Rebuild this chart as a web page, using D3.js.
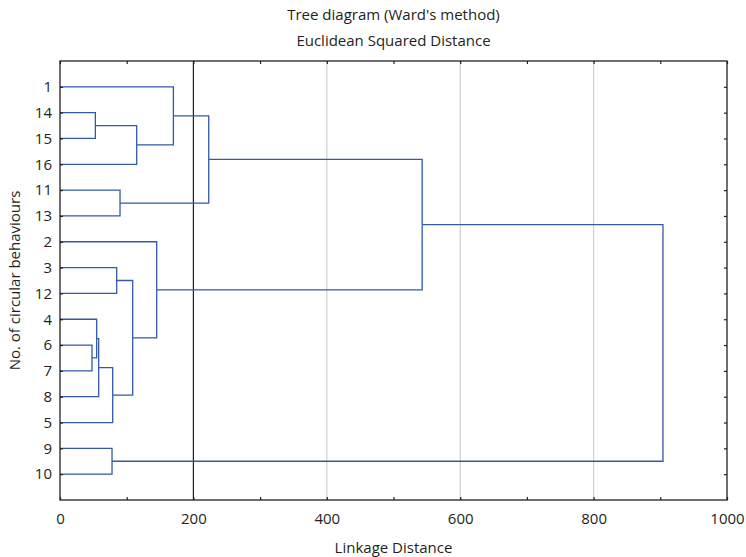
<!DOCTYPE html>
<html>
<head>
<meta charset="utf-8">
<script src="https://cdn.jsdelivr.net/npm/d3@7"></script>
<style>
  body { margin: 0; background: #fff; }
  svg text { font-family: "Open Sans", sans-serif; fill: #231f20; }
</style>
</head>
<body>
<div id="chart"></div>
<script>
// leaf labels, top to bottom
const leaves = ["1", "14", "15", "16", "11", "13", "2", "3", "12", "4", "6", "7", "8", "5", "9", "10"];

// linkage: leaf i = index in leaves, merge k creates cluster 16 + k
const mergeA = [10, 1, 9, 18, 19, 14, 7, 4, 22, 17, 6, 0, 27, 28, 29];
const mergeB = [11, 2, 16, 12, 13, 15, 8, 5, 20, 3, 24, 25, 23, 26, 21];
const mergeHeight = [48, 53, 55, 58, 79, 78, 85, 90, 109, 115, 145, 170, 223, 543, 904];

const xTicks = [0, 200, 400, 600, 800, 1000];
const xMinor = [100, 300, 500, 700, 900];
const gridValues = [400, 600, 800];
const cutValue = 200;

const width = 746, height = 557;
const mLeft = 60, mRight = 727, mTop = 61, mBottom = 500;

const svg = d3.select('#chart').append('svg')
    .attr('width', width)
    .attr('height', height);

const x = d3.scaleLinear().domain([0, 1000]).range([mLeft, mRight]);
const y = d3.scaleLinear().domain([0, leaves.length + 1]).range([mTop, mBottom]);

// grid lines
svg.append('g')
    .selectAll('line')
    .data(gridValues)
    .join('line')
    .attr('x1', d => x(d)).attr('x2', d => x(d))
    .attr('y1', mTop).attr('y2', mBottom)
    .attr('stroke', '#cfcfcf')
    .attr('stroke-width', 1.2);

svg.append('line')
    .attr('x1', x(cutValue)).attr('x2', x(cutValue))
    .attr('y1', mTop).attr('y2', mBottom)
    .attr('stroke', '#231f20')
    .attr('stroke-width', 1.2);

// build node positions
const nodeY = leaves.map((d, i) => y(i + 1));
const nodeH = leaves.map(() => 0);
mergeA.forEach((a, k) => {
    const b = mergeB[k];
    nodeY.push((nodeY[a] + nodeY[b]) / 2);
    nodeH.push(mergeHeight[k]);
});

const links = mergeA.map((a, k) => ({ a: a, b: mergeB[k], h: mergeHeight[k] }));

svg.append('g')
    .selectAll('path')
    .data(links)
    .join('path')
    .attr('d', d => `M${x(nodeH[d.a])},${nodeY[d.a]}H${x(d.h)}V${nodeY[d.b]}H${x(nodeH[d.b])}`)
    .attr('fill', 'none')
    .attr('stroke', '#3459a9')
    .attr('stroke-width', 1.3);

// axes
const fontSize = '15px';

const xAxis = svg.append('g')
    .attr('transform', `translate(0,${mBottom})`)
    .call(d3.axisBottom(x).tickValues(xTicks).tickSize(-3).tickPadding(13).tickFormat(d3.format('d')));
const xAxisMinor = svg.append('g')
    .attr('transform', `translate(0,${mBottom})`)
    .call(d3.axisBottom(x).tickValues(xMinor).tickSize(-3).tickFormat(''));
const xTop = svg.append('g')
    .attr('transform', `translate(0,${mTop})`)
    .call(d3.axisTop(x).tickValues(xTicks.concat(xMinor)).tickSize(-3).tickFormat(''));

const yAxis = svg.append('g')
    .attr('transform', `translate(${mLeft},0)`)
    .call(d3.axisLeft(y).tickValues(d3.range(1, leaves.length + 1)).tickSize(-3).tickPadding(8)
        .tickFormat(d => leaves[d - 1]));
const yRight = svg.append('g')
    .attr('transform', `translate(${mRight},0)`)
    .call(d3.axisRight(y).tickValues(d3.range(1, leaves.length + 1)).tickSize(-3).tickFormat(''));

[xAxis, xAxisMinor, xTop, yAxis, yRight].forEach(g => {
    g.select('.domain').remove();
    g.selectAll('line').attr('stroke', '#231f20').attr('stroke-width', 1.2);
    g.selectAll('text').attr('font-size', fontSize).attr('font-family', null).attr('fill', '#231f20');
});

// frame
svg.append('rect')
    .attr('x', mLeft).attr('y', mTop)
    .attr('width', mRight - mLeft).attr('height', mBottom - mTop)
    .attr('fill', 'none')
    .attr('stroke', '#231f20')
    .attr('stroke-width', 1.3);

// titles
svg.append('text')
    .attr('x', (mLeft + mRight) / 2).attr('y', 20)
    .attr('text-anchor', 'middle').attr('font-size', fontSize)
    .text("Tree diagram (Ward's method)");
svg.append('text')
    .attr('x', (mLeft + mRight) / 2).attr('y', 46)
    .attr('text-anchor', 'middle').attr('font-size', fontSize)
    .text('Euclidean Squared Distance');

svg.append('text')
    .attr('x', (mLeft + mRight) / 2).attr('y', 553)
    .attr('text-anchor', 'middle').attr('font-size', fontSize)
    .text('Linkage Distance');

svg.append('text')
    .attr('transform', `translate(20,${(mTop + mBottom) / 2}) rotate(-90)`)
    .attr('text-anchor', 'middle').attr('font-size', fontSize)
    .text('No. of circular behaviours');
</script>
</body>
</html>
